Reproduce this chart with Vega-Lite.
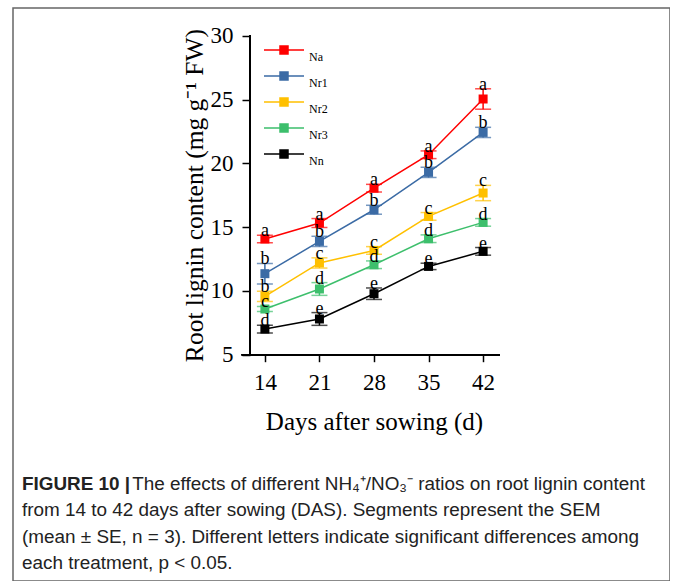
{
  "$schema": "https://vega.github.io/schema/vega-lite/v6.json",
  "width": 657,
  "height": 573,
  "autosize": "none",
  "padding": {"left": 13, "top": 8, "right": 0, "bottom": 0},
  "background": "white",
  "config": {
    "view": {"stroke": "#666666", "strokeWidth": 1.5},
    "font": "Liberation Serif"
  },
  "title": {
    "text": "FIGURE 10 |",
    "subtitle": [
      "\u200b\u00a0\u00a0\u00a0\u00a0\u00a0\u00a0\u00a0\u00a0\u00a0\u00a0\u00a0\u00a0\u00a0\u00a0\u00a0\u00a0\u00a0\u00a0\u00a0\u00a0\u00a0The effects of different NH₄⁺/NO₃⁻ ratios on root lignin content",
      "from 14 to 42 days after sowing (DAS). Segments represent the SEM",
      "(mean ± SE, n = 3). Different letters indicate significant differences among",
      "each treatment, p < 0.05."
    ],
    "orient": "bottom",
    "anchor": "start",
    "frame": "group",
    "offset": -106,
    "dx": 9,
    "font": "Liberation Sans",
    "fontSize": 18.9,
    "fontWeight": "bold",
    "color": "#222222",
    "subtitleFont": "Liberation Sans",
    "subtitleFontSize": 18.9,
    "subtitleColor": "#222222",
    "subtitleLineHeight": 26.3,
    "subtitlePadding": -18.9
  },
  "data": {
    "values": [
      {"treatment": "Na", "day": 14, "mean": 14.07, "se": 0.3, "letter": "a"},
      {"treatment": "Na", "day": 21, "mean": 15.32, "se": 0.35, "letter": "a"},
      {"treatment": "Na", "day": 28, "mean": 18.05, "se": 0.3, "letter": "a"},
      {"treatment": "Na", "day": 35, "mean": 20.67, "se": 0.3, "letter": "a"},
      {"treatment": "Na", "day": 42, "mean": 25.04, "se": 0.8, "letter": "a"},
      {"treatment": "Nr1", "day": 14, "mean": 11.35, "se": 0.8, "letter": "b"},
      {"treatment": "Nr1", "day": 21, "mean": 13.88, "se": 0.4, "letter": "b"},
      {"treatment": "Nr1", "day": 28, "mean": 16.36, "se": 0.35, "letter": "b"},
      {"treatment": "Nr1", "day": 35, "mean": 19.29, "se": 0.4, "letter": "b"},
      {"treatment": "Nr1", "day": 42, "mean": 22.42, "se": 0.4, "letter": "b"},
      {"treatment": "Nr2", "day": 14, "mean": 9.57, "se": 0.4, "letter": "b"},
      {"treatment": "Nr2", "day": 21, "mean": 12.19, "se": 0.4, "letter": "c"},
      {"treatment": "Nr2", "day": 28, "mean": 13.17, "se": 0.3, "letter": "c"},
      {"treatment": "Nr2", "day": 35, "mean": 15.84, "se": 0.3, "letter": "c"},
      {"treatment": "Nr2", "day": 42, "mean": 17.67, "se": 0.6, "letter": "c"},
      {"treatment": "Nr3", "day": 14, "mean": 8.58, "se": 0.2, "letter": "c"},
      {"treatment": "Nr3", "day": 21, "mean": 10.15, "se": 0.5, "letter": "d"},
      {"treatment": "Nr3", "day": 28, "mean": 12.05, "se": 0.3, "letter": "d"},
      {"treatment": "Nr3", "day": 35, "mean": 14.09, "se": 0.3, "letter": "d"},
      {"treatment": "Nr3", "day": 42, "mean": 15.37, "se": 0.3, "letter": "d"},
      {"treatment": "Nn", "day": 14, "mean": 7.01, "se": 0.3, "letter": "d"},
      {"treatment": "Nn", "day": 21, "mean": 7.8, "se": 0.5, "letter": "e"},
      {"treatment": "Nn", "day": 28, "mean": 9.78, "se": 0.45, "letter": "e"},
      {"treatment": "Nn", "day": 35, "mean": 11.92, "se": 0.25, "letter": "e"},
      {"treatment": "Nn", "day": 42, "mean": 13.1, "se": 0.3, "letter": "e"}
    ]
  },
  "layer": [
    {
      "mark": {"type": "rule", "color": "black", "strokeWidth": 1.5},
      "encoding": {
        "x": {"datum": 12.08, "title": "Days after sowing (d)", "scale": {"domain": [-18.32, 65.98], "nice": false, "zero": false}},
        "y": {"datum": 5, "title": "Root lignin content (mg g⁻¹ FW)", "scale": {"domain": [-12.735, 32.171], "nice": false, "zero": false}},
        "y2": {"datum": 30}
      }
    },
    {
      "mark": {"type": "rule", "color": "black", "strokeWidth": 1.5},
      "encoding": {
        "x": {"datum": 11.05, "title": "Days after sowing (d)", "scale": {"domain": [-18.32, 65.98], "nice": false, "zero": false}},
        "x2": {"datum": 44.14},
        "y": {"datum": 5, "title": "Root lignin content (mg g⁻¹ FW)", "scale": {"domain": [-12.735, 32.171], "nice": false, "zero": false}}
      }
    },
    {
      "mark": {"type": "line", "strokeWidth": 1.5},
      "encoding": {
        "x": {
          "field": "day", "type": "quantitative", "title": "Days after sowing (d)",
          "scale": {"domain": [-18.32, 65.98], "nice": false, "zero": false},
          "axis": {
            "values": [14, 21, 28, 35, 42], "offset": -226.3, "domain": false, "grid": false,
            "tickSize": 7, "tickWidth": 1.5, "tickColor": "black",
            "labelFont": "Liberation Serif", "labelFontSize": 23, "labelPadding": 10, "labelColor": "black",
            "title": "Days after sowing (d)", "titleFont": "Liberation Serif", "titleFontSize": 25,
            "titleFontWeight": "normal", "titleColor": "black", "titleX": 361, "titleY": 67, "titleBaseline": "middle"
          }
        },
        "y": {
          "field": "mean", "type": "quantitative", "title": "Root lignin content (mg g⁻¹ FW)",
          "scale": {"domain": [-12.735, 32.171], "nice": false, "zero": false},
          "axis": {
            "values": [5, 10, 15, 20, 25, 30], "offset": -237, "domain": false, "grid": false,
            "tickSize": 8, "tickWidth": 1.5, "tickColor": "black",
            "labelFont": "Liberation Serif", "labelFontSize": 23, "labelPadding": 9, "labelColor": "black",
            "title": "Root lignin content (mg g⁻¹ FW)", "titleFont": "Liberation Serif", "titleFontSize": 25.5,
            "titleFontWeight": "normal", "titleColor": "black", "titleX": -56, "titleY": 187,
            "titleBaseline": "middle", "titleAlign": "center", "titleAngle": -90
          }
        },
        "color": {
          "field": "treatment", "type": "nominal",
          "scale": {"domain": ["Na", "Nr1", "Nr2", "Nr3", "Nn"], "range": ["#ff0000", "#3b6ba5", "#ffc000", "#3dbf6c", "#000000"]},
          "legend": {
            "orient": "none", "legendX": 250, "legendY": 29, "title": null,
            "symbolType": "M-1,0H1M-0.2,-0.2H0.2V0.2H-0.2Z", "symbolSize": 1600, "symbolStrokeWidth": 1.5,
            "symbolOpacity": 1, "clipHeight": 26, "rowPadding": 0, "padding": 0,
            "labelFont": "Liberation Serif", "labelFontSize": 12, "labelColor": "black", "labelOffset": 4,
            "encode": {
              "labels": {"update": {"dy": {"value": 7}}},
              "symbols": {"update": {
                "fill": {"scale": "color", "field": "value"},
                "stroke": {"scale": "color", "field": "value"},
                "size": {"value": 1600},
                "opacity": {"value": 1}, "fillOpacity": {"value": 1}
              }}
            }
          }
        }
      }
    },
    {
      "mark": {"type": "errorbar", "thickness": 1.5, "ticks": {"size": 16, "thickness": 1.5}},
      "encoding": {
        "x": {"field": "day", "type": "quantitative", "title": "Days after sowing (d)", "scale": {"domain": [-18.32, 65.98], "nice": false, "zero": false}},
        "y": {"field": "mean", "type": "quantitative", "title": "Root lignin content (mg g⁻¹ FW)", "scale": {"domain": [-12.735, 32.171], "nice": false, "zero": false}},
        "yError": {"field": "se"},
        "color": {"field": "treatment", "type": "nominal", "scale": {"domain": ["Na", "Nr1", "Nr2", "Nr3", "Nn"], "range": ["#ff0000", "#3b6ba5", "#ffc000", "#3dbf6c", "#000000"]}}
      }
    },
    {
      "mark": {"type": "point", "shape": "square", "filled": true, "size": 81, "opacity": 1},
      "encoding": {
        "x": {"field": "day", "type": "quantitative", "title": "Days after sowing (d)", "scale": {"domain": [-18.32, 65.98], "nice": false, "zero": false}},
        "y": {"field": "mean", "type": "quantitative", "title": "Root lignin content (mg g⁻¹ FW)", "scale": {"domain": [-12.735, 32.171], "nice": false, "zero": false}},
        "color": {"field": "treatment", "type": "nominal", "scale": {"domain": ["Na", "Nr1", "Nr2", "Nr3", "Nn"], "range": ["#ff0000", "#3b6ba5", "#ffc000", "#3dbf6c", "#000000"]}}
      }
    },
    {
      "transform": [{"calculate": "datum.mean + datum.se", "as": "upper"}],
      "mark": {"type": "text", "font": "Liberation Serif", "fontSize": 18, "baseline": "alphabetic", "dy": 1, "color": "black"},
      "encoding": {
        "x": {"field": "day", "type": "quantitative", "title": "Days after sowing (d)", "scale": {"domain": [-18.32, 65.98], "nice": false, "zero": false}},
        "y": {"field": "upper", "type": "quantitative", "title": "Root lignin content (mg g⁻¹ FW)", "scale": {"domain": [-12.735, 32.171], "nice": false, "zero": false}},
        "text": {"field": "letter"}
      }
    }
  ]
}
